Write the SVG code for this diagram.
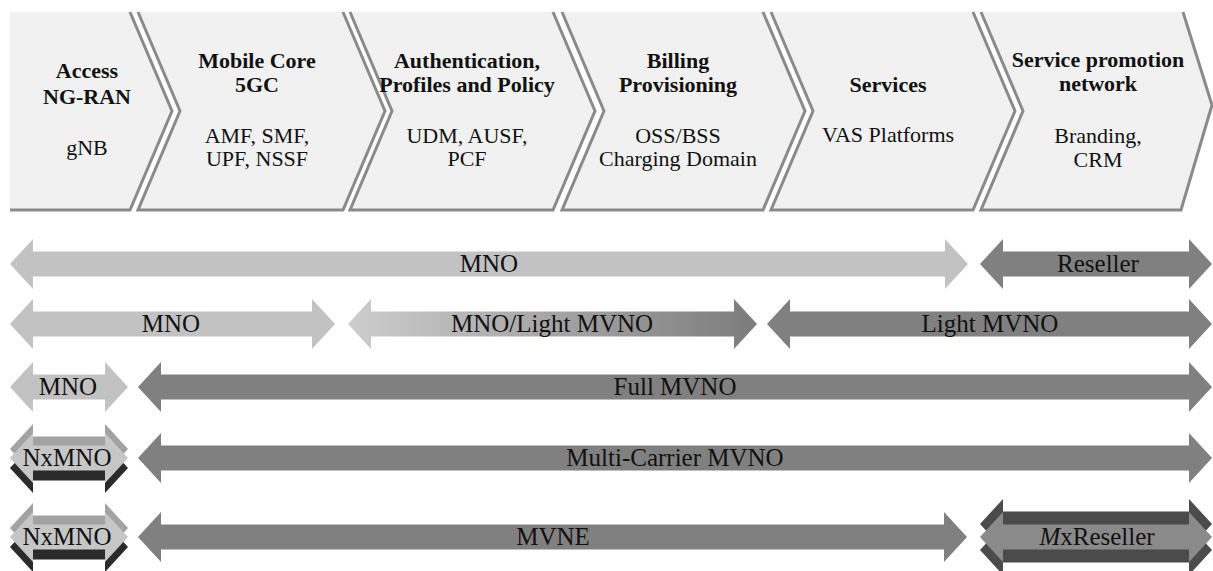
<svg xmlns="http://www.w3.org/2000/svg" xmlns:xlink="http://www.w3.org/1999/xlink" width="1213" height="571" viewBox="0 0 1213 571">
<style>
.chev{fill:#f1f1f1;stroke:none}
.edge{fill:none;stroke:#8a8a8a;stroke-width:3;stroke-linejoin:miter}
text{font-family:'Liberation Serif','DejaVu Serif',serif;fill:#111;text-anchor:middle}
.h{font-weight:bold;font-size:22px}
.t{font-size:22px}
.lb{font-size:25px}
.light{fill:#c2c2c2}
.dark{fill:#808080}
</style>
<defs>
<linearGradient id="grad" gradientUnits="userSpaceOnUse" x1="348" y1="0" x2="757" y2="0">
<stop offset="0" stop-color="#cdcdcd"/>
<stop offset="1" stop-color="#7c7c7c"/>
</linearGradient>
<path id="nx" d="M10,458 L33,433 L33,445.5 L105,445.5 L105,433 L128,458 L105,483 L105,470.5 L33,470.5 L33,483Z"/>
<path id="mx" d="M980,537 L1003,512 L1003,524.5 L1189,524.5 L1189,512 L1212,537 L1189,562 L1189,549.5 L1003,549.5 L1003,562Z"/>
</defs>

<g id="stage-access">
<polygon class="chev" points="10,12 130,12 172,111 130,210 10,210"/>
<polyline class="edge" points="10,210 130,210 172,111 130,12"/>
<text class="h" x="87" y="78">Access</text>
<text class="h" x="87" y="104">NG-RAN</text>
<text class="t" x="87" y="155">gNB</text>
</g>
<g id="stage-core">
<polygon class="chev" points="138,12 343,12 385,111 343,210 138,210 180,111"/>
<polyline class="edge" points="138,12 180,111 138,210 343,210 385,111 343,12"/>
<text class="h" x="257" y="68">Mobile Core</text>
<text class="h" x="257" y="92">5GC</text>
<text class="t" x="257" y="143">AMF, SMF,</text>
<text class="t" x="257" y="166">UPF, NSSF</text>
</g>
<g id="stage-auth">
<polygon class="chev" points="350,12 553,12 595,111 553,210 350,210 392,111"/>
<polyline class="edge" points="350,12 392,111 350,210 553,210 595,111 553,12"/>
<text class="h" x="467" y="68">Authentication,</text>
<text class="h" x="467" y="92">Profiles and Policy</text>
<text class="t" x="467" y="143">UDM, AUSF,</text>
<text class="t" x="467" y="166">PCF</text>
</g>
<g id="stage-billing">
<polygon class="chev" points="562,12 763,12 805,111 763,210 562,210 604,111"/>
<polyline class="edge" points="562,12 604,111 562,210 763,210 805,111 763,12"/>
<text class="h" x="678" y="68">Billing</text>
<text class="h" x="678" y="92">Provisioning</text>
<text class="t" x="678" y="143">OSS/BSS</text>
<text class="t" x="678" y="166">Charging Domain</text>
</g>
<g id="stage-services">
<polygon class="chev" points="771,12 973,12 1015,111 973,210 771,210 813,111"/>
<polyline class="edge" points="771,12 813,111 771,210 973,210 1015,111 973,12"/>
<text class="h" x="888" y="92">Services</text>
<text class="t" x="888" y="142">VAS Platforms</text>
</g>
<g id="stage-promotion">
<polygon class="chev" points="981,12 1183,12 1212,105 1181,210 981,210 1023,111"/>
<polyline class="edge" points="981,12 1023,111 981,210 1181,210 1212,105 1183,12"/>
<text class="h" x="1098" y="67">Service promotion</text>
<text class="h" x="1098" y="91">network</text>
<text class="t" x="1098" y="143">Branding,</text>
<text class="t" x="1098" y="167">CRM</text>
</g>

<g id="connectors">
<g id="row1-mno">
<path class="light" d="M10,264 L33,239 L33,251.5 L945,251.5 L945,239 L968,264 L945,289 L945,276.5 L33,276.5 L33,289Z"/>
<text class="lb" x="489" y="272">MNO</text>
</g>
<g id="row1-reseller">
<path class="dark" d="M980,264 L1003,239 L1003,251.5 L1189,251.5 L1189,239 L1212,264 L1189,289 L1189,276.5 L1003,276.5 L1003,289Z"/>
<text class="lb" x="1098" y="272">Reseller</text>
</g>
<g id="row2-mno">
<path class="light" d="M10,324 L33,299 L33,311.5 L312,311.5 L312,299 L335,324 L312,349 L312,336.5 L33,336.5 L33,349Z"/>
<text class="lb" x="171" y="332">MNO</text>
</g>
<g id="row2-mno-light">
<path fill="url(#grad)" d="M348,324 L371,299 L371,311.5 L734,311.5 L734,299 L757,324 L734,349 L734,336.5 L371,336.5 L371,349Z"/>
<text class="lb" x="552" y="332">MNO/Light MVNO</text>
</g>
<g id="row2-light">
<path class="dark" d="M767,324 L790,299 L790,311.5 L1189,311.5 L1189,299 L1212,324 L1189,349 L1189,336.5 L790,336.5 L790,349Z"/>
<text class="lb" x="990" y="332">Light MVNO</text>
</g>
<g id="row3-mno">
<path class="light" d="M10,387 L33,362 L33,374.5 L105,374.5 L105,362 L128,387 L105,412 L105,399.5 L33,399.5 L33,412Z"/>
<text class="lb" x="68" y="395">MNO</text>
</g>
<g id="row3-full">
<path class="dark" d="M138,387 L161,362 L161,374.5 L1189,374.5 L1189,362 L1212,387 L1189,412 L1189,399.5 L161,399.5 L161,412Z"/>
<text class="lb" x="675" y="395">Full MVNO</text>
</g>
<g id="row4-nxmno">
<use xlink:href="#nx" fill="#a2a2a2" transform="translate(0,-9)"/>
<use xlink:href="#nx" fill="#2b2b2b" transform="translate(0,10)"/>
<use xlink:href="#nx" fill="#c6c6c6"/>
<text class="lb" x="67" y="466">NxMNO</text>
</g>
<g id="row4-multi">
<path class="dark" d="M138,458 L161,433 L161,445.5 L1189,445.5 L1189,433 L1212,458 L1189,483 L1189,470.5 L161,470.5 L161,483Z"/>
<text class="lb" x="675" y="466">Multi-Carrier MVNO</text>
</g>
<g id="row5-nxmno">
<use xlink:href="#nx" fill="#a2a2a2" transform="translate(0,70)"/>
<use xlink:href="#nx" fill="#2b2b2b" transform="translate(0,89)"/>
<use xlink:href="#nx" fill="#c6c6c6" transform="translate(0,79)"/>
<text class="lb" x="67" y="545">NxMNO</text>
</g>
<g id="row5-mvne">
<path class="dark" d="M138,537 L161,512 L161,524.5 L944,524.5 L944,512 L967,537 L944,562 L944,549.5 L161,549.5 L161,562Z"/>
<text class="lb" x="553" y="545">MVNE</text>
</g>
<g id="row5-mxreseller">
<use xlink:href="#mx" fill="#4b4b4b" transform="translate(0,-13)"/>
<use xlink:href="#mx" fill="#4b4b4b" transform="translate(0,13)"/>
<use xlink:href="#mx" fill="#8a8a8a"/>
<text class="lb" x="1097" y="545"><tspan font-style="italic">M</tspan>xReseller</text>
</g>
</g>
</svg>
